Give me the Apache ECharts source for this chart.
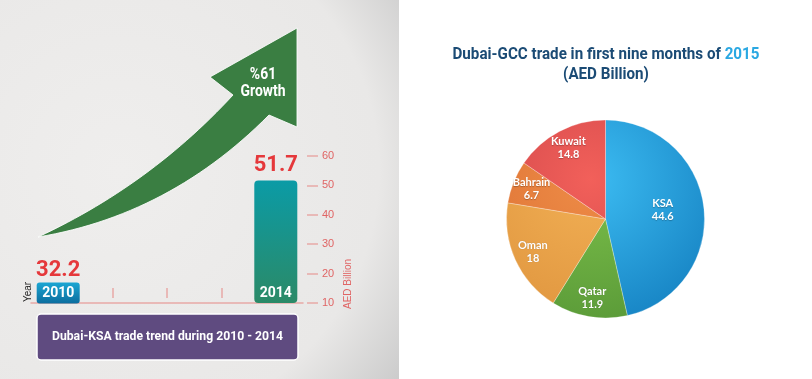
<!DOCTYPE html>
<html><head><meta charset="utf-8">
<script src="https://cdn.jsdelivr.net/npm/echarts@6/dist/echarts.min.js"></script>
<style>html,body{margin:0;padding:0;background:#fff}#c{width:812px;height:379px}</style>
</head><body><div id="c"></div>
<script>
// ---- data ----
const years = ['2010', '2011', '2012', '2013', '2014'];
const ksaTrade = [32.2, null, null, null, 51.7];
const yMin = 10, yMax = 60, yStep = 10;
const growthLines = ['%61', 'Growth'];
const leftTitle = 'Dubai-KSA trade trend during 2010 - 2014';
const yName = 'AED Billion';
const xName = 'Year';
const gccCountries = ['KSA', 'Qatar', 'Oman', 'Bahrain', 'Kuwait'];
const gccValues = [44.6, 11.9, 18, 6.7, 14.8];
const pieTitleMain = 'Dubai-GCC trade in first nine months of ';
const pieTitleYear = '2015';
const pieTitleUnit = '(AED Billion)';

// ---- styles ----
const BOLD = "Roboto, 'Liberation Sans', Arial, sans-serif";
const pieColors = [
  ['#3cbcf2', '#1784c4'],
  ['#7cc04a', '#5a9a38'],
  ['#f2b055', '#e0963f'],
  ['#ee8c47', '#dc7033'],
  ['#f2605a', '#cc4448']
];
const PIE_C = [605.5, 219], PIE_R = 99;

const mctx = document.createElement('canvas').getContext('2d');
function fitScale(text, font, target) {
  mctx.font = font;
  const w = mctx.measureText(text).width;
  return w > 0 ? target / w : 1;
}

function radial(pair) {
  return { type: 'radial', x: PIE_C[0] - 15, y: PIE_C[1] - 40, r: 150, global: true,
    colorStops: [{ offset: 0, color: pair[0] }, { offset: 1, color: pair[1] }] };
}
function lin(a, b) {
  return { type: 'linear', x: 0, y: 0, x2: 0, y2: 1, colorStops: [{ offset: 0, color: a }, { offset: 1, color: b }] };
}

// decorative arrow outline (quadratic curves sampled)
function quad(p0, c, p1, n) {
  const pts = [];
  for (let i = 0; i <= n; i++) {
    const t = i / n, u = 1 - t;
    pts.push([u * u * p0[0] + 2 * u * t * c[0] + t * t * p1[0], u * u * p0[1] + 2 * u * t * c[1] + t * t * p1[1]]);
  }
  return pts;
}
const arrowPts = [].concat(
  quad([38, 237], [150, 185], [233, 95], 30),
  [[210, 77], [297, 28], [297, 127], [269, 115]],
  quad([269, 115], [170, 215], [38, 237], 30).slice(1)
);

const titleFont = 'bold 17px ' + BOLD;
const titleScale = fitScale(pieTitleMain + pieTitleYear, titleFont, 307);
const boxFont = 'bold 13px ' + BOLD;
const boxScale = fitScale(leftTitle, boxFont, 231);
const growFont = 'bold 17px ' + BOLD;
const growScale = fitScale(growthLines[1], growFont, 45);

const chart = echarts.init(document.getElementById('c'), null, { renderer: 'canvas' });
const tickColor = '#e8a9a6';

chart.setOption({
  animation: false,
  backgroundColor: '#ffffff',
  grid: { left: 31, width: 272, top: 156, bottom: 76 },
  xAxis: [
    {
      type: 'category', data: years, position: 'bottom', z: 3,
      axisLine: { show: false }, axisTick: { show: false },
      axisLabel: {
        interval: 0, margin: -21,
        formatter: (v, i) => i === 0 ? '{a|' + v + '}' : (i === years.length - 1 ? '{b|' + v + '}' : ''),
        rich: {
          a: { width: 43, height: 21, lineHeight: 22, align: 'center', color: '#fff', fontSize: 14,
               fontFamily: BOLD, fontWeight: 'bold', backgroundColor: lin('#1ca6d3', '#0c6d9e'), borderRadius: 3 },
          b: { width: 43, height: 21, lineHeight: 22, align: 'center', color: '#fff', fontSize: 14,
               fontFamily: BOLD, fontWeight: 'bold' }
        }
      }
    },
    {
      type: 'category', data: years, position: 'bottom',
      axisLine: { show: true, lineStyle: { color: tickColor, width: 1.5 } },
      axisTick: { show: false }, axisLabel: { show: false }
    },
    {
      type: 'category', data: years, position: 'bottom', offset: -5,
      axisLine: { show: false },
      axisTick: { show: true, inside: true, length: 10, alignWithLabel: true,
        interval: (i) => i > 0 && i < years.length - 1, lineStyle: { color: tickColor, width: 1.5 } },
      axisLabel: { show: false }
    }
  ],
  yAxis: {
    type: 'value', position: 'right', offset: 4, min: yMin, max: yMax, interval: yStep,
    axisLine: { show: false }, splitLine: { show: false },
    axisTick: { show: true, length: 11, lineStyle: { color: tickColor, width: 1.5 } },
    axisLabel: { margin: 15, color: '#e06565', fontSize: 11, fontFamily: "'Liberation Sans',Arial,sans-serif" }
  },
  series: [
    {
      type: 'bar', xAxisIndex: 0, yAxisIndex: 0, barWidth: 43, silent: true,
      data: ksaTrade.map((v, i) => v == null ? '-' :
        (i === 0 ? { value: v, itemStyle: { color: 'rgba(0,0,0,0)' }, label: { position: 'insideBottom', distance: 22 } } : { value: v })),
      itemStyle: { color: lin('#0b9ba6', '#2b8a67'), borderRadius: 4 },
      label: { show: true, position: 'top', distance: 4, color: '#e5383b', fontFamily: BOLD,
        fontWeight: 'bold', fontSize: 22, formatter: (p) => String(p.value) }
    },
    {
      type: 'pie', center: PIE_C, radius: [0, PIE_R], startAngle: 90, clockwise: true, silent: true,
      label: { show: false }, labelLine: { show: false },
      itemStyle: { borderColor: 'rgba(255,255,255,0.35)', borderWidth: 0.8 },
      data: gccCountries.map((n, i) => ({ name: n, value: gccValues[i], itemStyle: { color: radial(pieColors[i]) } }))
    },
    {
      type: 'pie', center: PIE_C, radius: [PIE_R * 0.55, PIE_R], startAngle: 90, clockwise: true, silent: true,
      itemStyle: { color: 'rgba(0,0,0,0)', borderWidth: 0 },
      labelLine: { show: false },
      label: { show: true, position: 'inside', formatter: '{b}\n{c}', color: '#fff',
        fontFamily: 'Lato', fontWeight: 'bold', fontSize: 11, lineHeight: 13,
        textShadowColor: 'rgba(0,0,0,0.25)', textShadowBlur: 1, textShadowOffsetY: 0.5 },
      data: gccCountries.map((n, i) => i === 0 ? { name: n, value: gccValues[i], label: { offset: [-22, 0] } } : { name: n, value: gccValues[i] })
    }
  ],
  graphic: [
    {
      type: 'rect', z: -10, silent: true,
      shape: { x: 0, y: 0, width: 399, height: 379 },
      style: { fill: { type: 'radial', x: 0.3, y: 0.45, r: 0.95,
        colorStops: [{ offset: 0, color: '#efeeed' }, { offset: 0.72, color: '#e9e8e7' }, { offset: 1, color: '#c8c8c8' }] } }
    },
    {
      type: 'polygon', z: 1, silent: true,
      shape: { points: arrowPts },
      style: { fill: '#3a7e42', stroke: 'rgba(255,255,255,0.85)', lineWidth: 1 }
    },
    {
      type: 'text', z: 2, silent: true, x: 263, y: 83, scaleX: growScale,
      style: { text: growthLines.join('\n'), fill: '#fff', font: growFont,
        align: 'center', verticalAlign: 'middle', lineHeight: 17 }
    },
    {
      type: 'rect', z: 1, silent: true,
      shape: { x: 37, y: 314, width: 261, height: 46, r: 4 },
      style: { fill: '#5f4b80', stroke: '#ffffff', lineWidth: 1.5 }
    },
    {
      type: 'text', z: 2, silent: true, x: 167.5, y: 337, scaleX: boxScale,
      style: { text: leftTitle, fill: '#fff', font: boxFont, align: 'center', verticalAlign: 'middle' }
    },
    {
      type: 'text', z: 2, silent: true, x: 28, y: 292, rotation: Math.PI / 2,
      style: { text: xName, fill: '#222', font: "10px 'Liberation Sans',Arial,sans-serif", align: 'center', verticalAlign: 'middle' }
    },
    {
      type: 'text', z: 2, silent: true, x: 348, y: 284, rotation: Math.PI / 2,
      style: { text: yName, fill: '#e06565', font: "10px 'Liberation Sans',Arial,sans-serif", align: 'center', verticalAlign: 'middle' }
    },
    {
      type: 'text', z: 2, silent: true, x: 606, y: 65, scaleX: titleScale,
      style: {
        text: '{a|' + pieTitleMain + '}{b|' + pieTitleYear + '}\n{a|' + pieTitleUnit + '}',
        align: 'center', verticalAlign: 'middle',
        rich: {
          a: { fill: '#1b4b75', font: titleFont, lineHeight: 20 },
          b: { fill: '#2aa8e2', font: titleFont, lineHeight: 20 }
        }
      }
    }
  ]
});
</script></body></html>
